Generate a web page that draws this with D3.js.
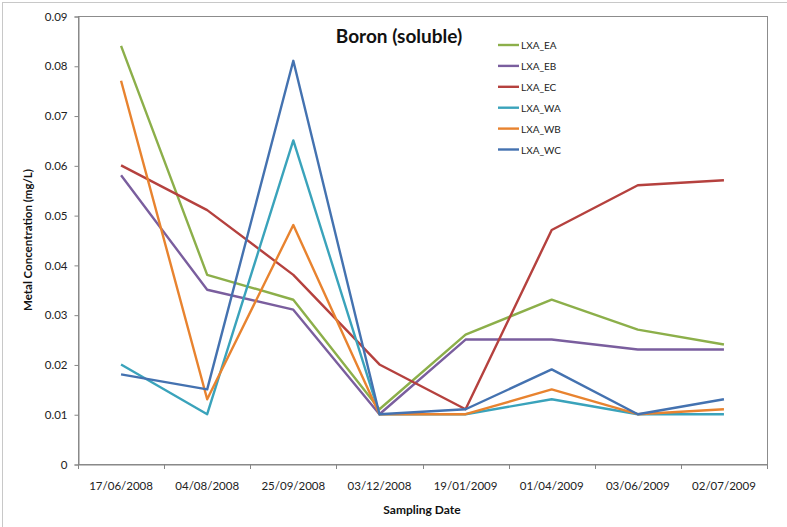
<!DOCTYPE html>
<html>
<head>
<meta charset="utf-8">
<script src="https://cdn.jsdelivr.net/npm/d3@7"></script>
<style>
  html, body { margin: 0; padding: 0; background: #fff; }
  svg { display: block; font-family: Lato, "Open Sans", "Liberation Sans", sans-serif; }
</style>
</head>
<body>
<svg id="chart" width="787" height="527"></svg>
<script>
// Sampling dates (category axis)
const dates = ["17/06/2008", "04/08/2008", "25/09/2008", "03/12/2008",
               "19/01/2009", "01/04/2009", "03/06/2009", "02/07/2009"];

// Soluble boron per sampling site, mg/L
const seriesNames = ["LXA_EA", "LXA_EB", "LXA_EC", "LXA_WA", "LXA_WB", "LXA_WC"];
const LXA_EA = [0.084, 0.038, 0.033, 0.011, 0.026, 0.033, 0.027, 0.024];
const LXA_EB = [0.058, 0.035, 0.031, 0.010, 0.025, 0.025, 0.023, 0.023];
const LXA_EC = [0.060, 0.051, 0.038, 0.020, 0.011, 0.047, 0.056, 0.057];
const LXA_WA = [0.020, 0.010, 0.065, 0.010, 0.010, 0.013, 0.010, 0.010];
const LXA_WB = [0.077, 0.013, 0.048, 0.010, 0.010, 0.015, 0.010, 0.011];
const LXA_WC = [0.018, 0.015, 0.081, 0.010, 0.011, 0.019, 0.010, 0.013];
const seriesValues = [LXA_EA, LXA_EB, LXA_EC, LXA_WA, LXA_WB, LXA_WC];

const yTicks = [0, 0.01, 0.02, 0.03, 0.04, 0.05, 0.06, 0.07, 0.08, 0.09];

const colors = ["#8CAF4A", "#7A5E9E", "#B5413E", "#3AA3BB", "#E8832F", "#4472B0"];

const svg = d3.select("#chart");

// outer chart frame
svg.append("rect")
  .attr("x", 2.5).attr("y", 2.5).attr("width", 800).attr("height", 600)
  .attr("fill", "none").attr("stroke", "#c8c8c8").attr("stroke-width", 1);

const plot = { left: 78, top: 16, right: 767, bottom: 464 };

const x = d3.scaleBand().domain(dates).range([plot.left, plot.right]);
const y = d3.scaleLinear().domain([0, 0.09]).range([plot.bottom, plot.top]);

// plot area border
svg.append("rect")
  .attr("x", plot.left + 0.5).attr("y", plot.top + 0.5)
  .attr("width", plot.right - plot.left).attr("height", plot.bottom - plot.top)
  .attr("fill", "none").attr("stroke", "#8c8c8c").attr("stroke-width", 1);

// y axis
const yAxis = svg.append("g")
  .attr("transform", `translate(${plot.left + 0.5},0.5)`)
  .call(d3.axisLeft(y).tickValues(yTicks)
    .tickFormat(d => d === 0 ? "0" : d3.format(".2f")(d))
    .tickSize(4).tickPadding(7));
yAxis.select(".domain").attr("stroke", "#868686");
yAxis.selectAll(".tick line").attr("stroke", "#868686");
yAxis.selectAll("text").attr("font-size", 11.5).attr("fill", "#222")
  .attr("font-family", "Lato, 'Open Sans', sans-serif");

// x axis with ticks between categories
const xAxis = svg.append("g")
  .attr("transform", `translate(0,${plot.bottom + 0.5})`)
  .call(d3.axisBottom(x).tickSize(0).tickPadding(17));
xAxis.select(".domain").attr("stroke", "#868686");
xAxis.selectAll("text").attr("font-size", 11.5).attr("fill", "#222")
  .attr("font-family", "Lato, 'Open Sans', sans-serif");
const bounds = dates.map(d => x(d)).concat([x(dates[dates.length - 1]) + x.bandwidth()]);
svg.append("g").selectAll("line").data(bounds).join("line")
  .attr("x1", d => Math.round(d) + 0.5).attr("x2", d => Math.round(d) + 0.5)
  .attr("y1", plot.bottom).attr("y2", plot.bottom + 5)
  .attr("stroke", "#868686");

// series lines
const line = d3.line()
  .x((d, i) => x(dates[i]) + x.bandwidth() / 2)
  .y(d => y(d));
svg.append("g").selectAll("path").data(seriesValues).join("path")
  .attr("d", line)
  .attr("fill", "none")
  .attr("stroke", (d, i) => colors[i])
  .attr("stroke-width", 2.4)
  .attr("stroke-linejoin", "round");

// title
svg.append("text")
  .attr("x", 399).attr("y", 43)
  .attr("text-anchor", "middle")
  .attr("font-size", 19).attr("font-weight", "bold").attr("fill", "#111")
  .text("Boron (soluble)");

// axis titles
svg.append("text")
  .attr("x", 422).attr("y", 514)
  .attr("text-anchor", "middle")
  .attr("font-size", 12).attr("font-weight", "bold").attr("fill", "#111")
  .text("Sampling Date");
svg.append("text")
  .attr("transform", "translate(32,240) rotate(-90)")
  .attr("text-anchor", "middle")
  .attr("font-size", 11.5).attr("font-weight", "bold").attr("fill", "#111")
  .text("Metal Concentration (mg/L)");

// legend
const legend = svg.append("g").attr("transform", "translate(498,45)");
const rows = legend.selectAll("g").data(seriesNames).join("g")
  .attr("transform", (d, i) => `translate(0,${i * 20.9})`);
rows.append("line")
  .attr("x1", 0).attr("x2", 21).attr("y1", 0).attr("y2", 0)
  .attr("stroke", (d, i) => colors[i]).attr("stroke-width", 2.4);
rows.append("text")
  .attr("x", 23).attr("y", 4)
  .attr("font-size", 10).attr("fill", "#222")
  .text(d => d);
</script>
</body>
</html>
